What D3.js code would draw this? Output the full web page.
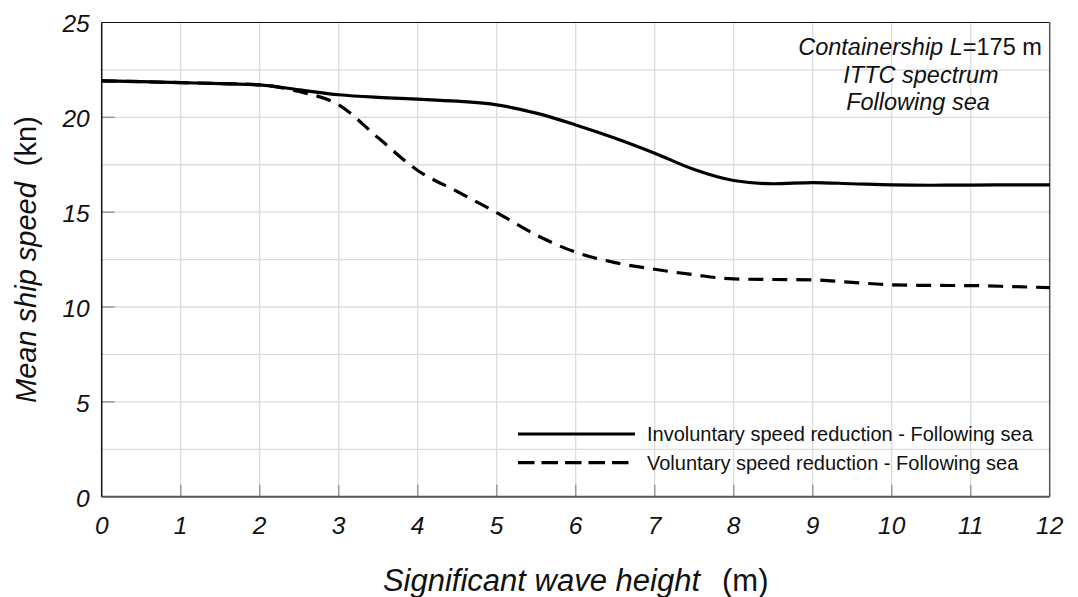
<!DOCTYPE html>
<html>
<head>
<meta charset="utf-8">
<script src="https://cdn.jsdelivr.net/npm/d3@7"></script>
<style>
  body { margin: 0; background: #fff; }
  svg text { font-family: "Liberation Sans", Arial, sans-serif; }
</style>
</head>
<body>
<div id="chart"></div>
<script>
// Mean ship speed vs significant wave height, following sea

const waveHeight = [0, 0.5, 1, 1.5, 2, 2.5, 3, 3.5, 4, 4.5, 5, 5.5, 6, 6.5, 7, 7.5, 8, 8.5, 9, 9.5, 10, 10.5, 11, 11.5, 12];
const involuntary = [21.92, 21.88, 21.83, 21.78, 21.71, 21.45, 21.19, 21.05, 20.96, 20.85, 20.66, 20.22, 19.6, 18.9, 18.11, 17.25, 16.67, 16.5, 16.56, 16.5, 16.44, 16.42, 16.43, 16.44, 16.44];
const voluntary   = [21.92, 21.88, 21.83, 21.78, 21.71, 21.36, 20.66, 18.92, 17.2, 16.09, 14.98, 13.8, 12.89, 12.34, 11.99, 11.7, 11.48, 11.45, 11.43, 11.3, 11.17, 11.14, 11.13, 11.08, 11.02];

const xTicks = [0, 1, 2, 3, 4, 5, 6, 7, 8, 9, 10, 11, 12];
const yTicks = [0, 5, 10, 15, 20, 25];
const yGrid  = [2.5, 5, 7.5, 10, 12.5, 15, 17.5, 20, 22.5];

const seriesNames = ['Involuntary speed reduction - Following sea', 'Voluntary speed reduction - Following sea'];

const W = 1078, H = 597;
const margin = { top: 22.5, right: 28.3, bottom: 100.3, left: 101.7 };
const iw = W - margin.left - margin.right;
const ih = H - margin.top - margin.bottom;

const svg = d3.select('#chart').append('svg')
  .attr('width', W).attr('height', H);

const g = svg.append('g').attr('transform', `translate(${margin.left},${margin.top})`);

const x = d3.scaleLinear().domain([0, 12]).range([0, iw]);
const y = d3.scaleLinear().domain([0, 25]).range([ih, 0]);

// grid
g.append('g').selectAll('line').data(xTicks.slice(1, -1)).join('line')
  .attr('x1', d => x(d)).attr('x2', d => x(d))
  .attr('y1', 0).attr('y2', ih)
  .attr('stroke', '#dcdcdc').attr('stroke-width', 1.3);
g.append('g').selectAll('line').data(yGrid).join('line')
  .attr('x1', 0).attr('x2', iw)
  .attr('y1', d => y(d)).attr('y2', d => y(d))
  .attr('stroke', '#dcdcdc').attr('stroke-width', 1.3);

// inner ticks
g.append('g').selectAll('line').data(yTicks.slice(1, -1)).join('line')
  .attr('x1', 0).attr('x2', 13)
  .attr('y1', d => y(d)).attr('y2', d => y(d))
  .attr('stroke', '#999').attr('stroke-width', 1.5);
g.append('g').selectAll('line').data(xTicks.slice(1, -1)).join('line')
  .attr('x1', d => x(d)).attr('x2', d => x(d))
  .attr('y1', ih).attr('y2', ih - 12)
  .attr('stroke', '#999').attr('stroke-width', 1.5);

// frame
g.append('line').attr('x1', 0).attr('x2', iw).attr('y1', 0).attr('y2', 0)
  .attr('stroke', '#111').attr('stroke-width', 1.2);
g.append('line').attr('x1', iw).attr('x2', iw).attr('y1', 0).attr('y2', ih)
  .attr('stroke', '#555').attr('stroke-width', 1.5);
g.append('line').attr('x1', 0).attr('x2', iw).attr('y1', ih).attr('y2', ih)
  .attr('stroke', '#555').attr('stroke-width', 2);
g.append('line').attr('x1', 0).attr('x2', 0).attr('y1', 0).attr('y2', ih)
  .attr('stroke', '#111').attr('stroke-width', 1.5);

// tick labels
g.append('g').selectAll('text').data(yTicks).join('text')
  .attr('x', -12).attr('y', d => y(d)).attr('dy', '0.4em')
  .attr('text-anchor', 'end').attr('font-style', 'italic')
  .attr('font-size', 24.5).attr('fill', '#111')
  .text(d => d);
g.append('g').selectAll('text').data(xTicks).join('text')
  .attr('x', d => x(d)).attr('y', ih + 37)
  .attr('text-anchor', 'middle').attr('font-style', 'italic')
  .attr('font-size', 24.5).attr('fill', '#111')
  .text(d => d);

// axis titles
const xt = svg.append('text')
  .attr('x', margin.left + iw / 2).attr('y', 591)
  .attr('text-anchor', 'middle').attr('font-size', 31).attr('fill', '#111');
xt.append('tspan').attr('font-style', 'italic').text('Significant wave height');
xt.append('tspan').attr('dx', 22).text('(m)');

const yt = svg.append('text')
  .attr('transform', `translate(36,${margin.top + ih / 2}) rotate(-90)`)
  .attr('text-anchor', 'middle').attr('font-size', 29).attr('fill', '#111');
yt.append('tspan').attr('font-style', 'italic').text('Mean ship speed');
yt.append('tspan').attr('dx', 16).text('(kn)');

// curves
const line = d3.line()
  .x((d, i) => x(waveHeight[i]))
  .y(d => y(d))
  .curve(d3.curveMonotoneX);

g.append('path').datum(voluntary)
  .attr('d', line).attr('fill', 'none')
  .attr('stroke', '#000').attr('stroke-width', 3.2)
  .attr('stroke-dasharray', '15,9');
g.append('path').datum(involuntary)
  .attr('d', line).attr('fill', 'none')
  .attr('stroke', '#000').attr('stroke-width', 3.2);

// annotation
const ann = svg.append('g').attr('font-size', 23.5).attr('fill', '#111').attr('text-anchor', 'middle');
const a1 = ann.append('text').attr('x', 920).attr('y', 55);
a1.append('tspan').attr('font-style', 'italic').text('Containership L');
a1.append('tspan').text('=175 m');
ann.append('text').attr('x', 921).attr('y', 83).attr('font-style', 'italic').text('ITTC spectrum');
ann.append('text').attr('x', 918).attr('y', 110).attr('font-style', 'italic').text('Following sea');

// legend
const legend = svg.append('g').attr('transform', 'translate(518,434)');
seriesNames.forEach((name, i) => {
  const row = legend.append('g').attr('transform', `translate(0,${i * 28.7})`);
  row.append('line').attr('x1', 0).attr('x2', 117).attr('y1', 0).attr('y2', 0)
    .attr('stroke', '#000').attr('stroke-width', 3.2)
    .attr('stroke-dasharray', i === 1 ? '16.5,7' : null);
  row.append('text').attr('x', 129).attr('y', 0).attr('dy', '0.36em')
    .attr('font-size', 20).attr('fill', '#111').text(name);
});
</script>
</body>
</html>
